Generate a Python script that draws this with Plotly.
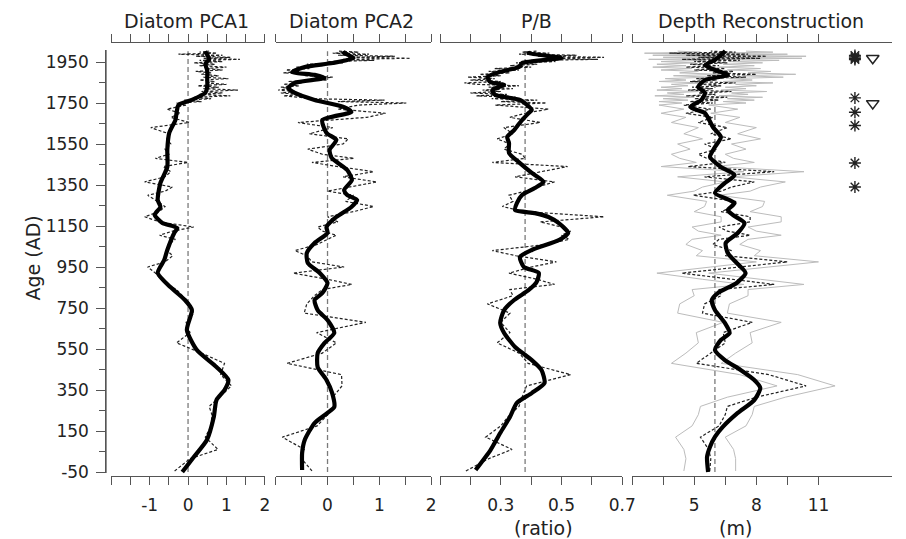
import plotly.graph_objects as go

# ---------------- data ----------------
ages = [
    -45, 15, 60, 120, 175, 230, 270, 315, 370, 425, 480, 530, 580, 630, 680, 725, 770, 810,
    840, 865, 890, 920, 950, 975, 1005, 1030, 1060, 1085, 1105, 1125, 1145, 1170, 1195, 1220,
    1245, 1270, 1300, 1320, 1340, 1365, 1390, 1415, 1440, 1460, 1480, 1500, 1525, 1550, 1575,
    1600, 1630, 1655, 1680, 1700, 1720, 1740,
    1750, 1757, 1764, 1771, 1778, 1785, 1792, 1799, 1806, 1813, 1820, 1827, 1834, 1841, 1848,
    1855, 1862, 1869, 1876, 1883, 1890, 1897, 1904, 1911, 1918, 1925, 1932, 1939, 1946, 1952,
    1958, 1963, 1968, 1973, 1978, 1983, 1988, 1993, 1998, 2003,
]

pca1_raw = [
    -0.35, 0.05, 0.78, 0.45, 0.6, 0.62, 0.55, 0.8, 1.13, 0.85, 0.95, 0.35, -0.3, 0.05, -0.05, 0.15, 0.05, -0.15,
    -0.3, -0.55, -0.7, -0.85, -1.05, -0.6, -0.4, -0.55, -0.5, -0.33, -0.74, -0.4, 0.15, -0.75, -1.13, -0.75,
    -0.6, -0.8, -1.05, -0.6, -0.41, -1.13, -0.6, -0.45, -0.65, 0.0, -0.85, -0.5, -0.6, -0.45, -0.55,
    -0.5, -0.97, 0.03, -0.45, -0.2, -0.55, -0.05,
    -0.3, 0.35, -0.1, 0.6, 0.15, 1.1, 0.3, 0.9, 0.35, 1.3, 0.4, 0.8, 0.25, 1.0, 0.45,
    0.7, 0.3, 1.05, 0.4, 0.8, 0.35, 0.6, 0.2, 0.9, 0.45, 1.0, 0.3, 0.7, 0.15, 0.9,
    0.3, 1.35, 0.4, 1.1, 0.2, 0.9, -0.25, 0.75, 0.3, 0.55,
]
pca2_raw = [
    -0.3, -0.5, -0.45, -0.87, -0.2, 0.0, 0.15, 0.1, 0.28, 0.27, -0.78, -0.1, 0.17, -0.21, 0.74, -0.45, -0.4, -0.25,
    -0.1, 0.47, 0.0, -0.66, 0.32, -0.3, -0.4, -0.63, -0.2, 0.0, 0.17, -0.1, -0.19, 0.2, 0.0, 0.5,
    0.89, 0.35, 0.5, 0.0, 0.45, 0.95, 0.3, 0.89, 0.2, -0.3, 0.51, -0.1, -0.38, 0.3, 0.4,
    -0.35, 0.1, -0.57, 0.76, 1.12, 0.2, 0.6,
    1.52, 0.2, 1.1, -0.3, -0.55, -0.85, -0.5, -0.9, -0.6, -0.95, -0.7, -0.9, -0.55, -0.85, -0.5,
    -0.75, 0.0, -0.2, 0.1, -0.45, -0.3, -0.85, -0.55, -0.8, -0.35, -0.6, -0.1, -0.4, 0.3, 0.0,
    0.9, 0.3, 1.6, 0.4, 1.3, 0.2, 0.8, 0.1, 0.6, 0.2,
]
pb_raw = [
    0.185, 0.26, 0.337, 0.25, 0.3, 0.33, 0.36, 0.37, 0.385, 0.53, 0.39, 0.36, 0.288, 0.33, 0.3, 0.33, 0.256, 0.34,
    0.33, 0.477, 0.42, 0.327, 0.4, 0.483, 0.35, 0.272, 0.45, 0.525, 0.5, 0.53, 0.5, 0.43, 0.64, 0.38,
    0.305, 0.34, 0.327, 0.38, 0.42, 0.477, 0.347, 0.44, 0.52, 0.272, 0.38, 0.37, 0.31, 0.33, 0.288,
    0.34, 0.31, 0.43, 0.33, 0.38, 0.457, 0.282,
    0.45, 0.3, 0.42, 0.27, 0.35, 0.22, 0.32, 0.2, 0.3, 0.24, 0.34, 0.26, 0.36, 0.22, 0.18,
    0.3, 0.2, 0.28, 0.19, 0.3, 0.23, 0.33, 0.26, 0.36, 0.28, 0.4, 0.33, 0.42, 0.35, 0.48,
    0.4, 0.62, 0.45, 0.64, 0.42, 0.55, 0.36, 0.46, 0.37, 0.42,
]
depth_raw = [
    5.75, 5.8, 5.7, 5.3, 6.2, 6.5, 6.6, 8.0, 10.4, 8.6, 5.1, 5.8, 6.5, 6.4, 7.8, 5.4, 5.5, 6.3,
    6.2, 8.86, 6.8, 4.4, 7.2, 9.5, 6.5, 6.8, 5.9, 6.2, 7.7, 6.6, 6.2, 7.7, 7.7, 6.3,
    6.9, 7.0, 4.95, 6.3, 6.8, 7.9, 5.5, 8.86, 4.7, 6.5, 5.6, 5.2, 6.1, 5.5, 6.8,
    5.8, 6.6, 5.2, 5.9, 4.6, 5.8, 4.5,
    5.9, 4.8, 6.2, 5.0, 6.6, 4.6, 6.0, 5.2, 6.8, 4.7, 5.9, 4.9, 6.3, 5.4, 7.0,
    4.8, 6.1, 5.1, 7.5, 5.6, 8.0, 5.9, 6.9, 5.0, 6.5, 4.6, 6.2, 4.8, 6.6, 5.0,
    7.2, 4.4, 8.2, 5.2, 8.5, 4.6, 7.6, 3.8, 7.0, 5.8,
]
depth_lower = [
    4.5, 4.6, 4.5, 4.1, 4.9, 5.2, 5.3, 6.6, 9.0, 7.2, 3.9, 4.6, 5.2, 5.1, 6.4, 4.2, 4.3, 5.0,
    4.9, 7.4, 5.4, 3.2, 5.8, 8.0, 5.1, 5.4, 4.6, 4.9, 6.3, 5.2, 4.9, 6.3, 6.3, 5.0,
    5.5, 5.6, 3.7, 5.0, 5.4, 6.5, 4.2, 7.4, 3.4, 5.1, 4.3, 3.9, 4.8, 4.2, 5.4,
    4.5, 5.2, 3.9, 4.6, 3.4, 4.5, 3.3,
    4.4, 3.3, 4.7, 3.5, 5.0, 3.1, 4.5, 3.7, 5.2, 3.2, 4.4, 3.4, 4.7, 3.9, 5.4,
    3.3, 4.6, 3.6, 5.8, 4.0, 6.2, 4.3, 5.2, 3.4, 4.9, 3.0, 4.6, 3.2, 5.0, 3.4,
    5.5, 2.8, 6.4, 3.5, 6.6, 3.0, 5.8, 2.6, 5.3, 4.2,
]
depth_upper = [
    7.0, 7.0, 6.9, 6.5, 7.5, 7.8, 7.9, 9.4, 11.8, 10.0, 6.3, 7.0, 7.8, 7.7, 9.2, 6.6, 6.7, 7.6,
    7.6, 10.3, 8.2, 5.7, 8.6, 11.0, 7.9, 8.2, 7.2, 7.6, 9.2, 8.0, 7.6, 9.2, 9.2, 7.7,
    8.3, 8.4, 6.2, 7.7, 8.2, 9.4, 6.8, 10.3, 6.0, 7.9, 6.9, 6.5, 7.5, 6.8, 8.2,
    7.1, 8.0, 6.5, 7.2, 5.8, 7.1, 5.7,
    7.5, 6.4, 7.9, 6.6, 8.3, 6.2, 7.6, 6.8, 8.5, 6.3, 7.5, 6.5, 8.0, 7.0, 8.8,
    6.4, 7.8, 6.7, 9.3, 7.3, 9.9, 7.6, 8.7, 6.6, 8.2, 6.2, 7.9, 6.4, 8.3, 6.7,
    9.1, 6.0, 10.2, 6.9, 10.4, 6.2, 9.5, 5.4, 8.8, 7.5,
]

# smoothed (LOESS-like) curves
pca1_s_age = [-50, 23, 106, 218, 301, 350, 399, 462, 545, 643, 740, 789, 852, 921, 984, 1033, 1116, 1140,
              1165, 1204, 1243, 1277, 1360, 1438, 1521, 1604, 1667, 1701, 1740, 1765, 1800, 1830,
              1870, 1910, 1940, 1965, 1985, 2003]
pca1_s = [-0.15, 0.15, 0.49, 0.67, 0.74, 0.95, 1.05, 0.74, 0.23, -0.03, 0.10, -0.08, -0.46, -0.79, -0.62,
          -0.54, -0.36, -0.28, -0.67, -0.87, -0.72, -0.79, -0.72, -0.54, -0.54, -0.49, -0.33, -0.3, -0.25,
          0.1, 0.45, 0.5, 0.5, 0.5, 0.45, 0.55, 0.5, 0.45]

pca2_s_age = [-40, 43, 106, 189, 238, 267, 335, 399, 462, 530, 579, 628, 691, 740, 789, 823, 872, 921, 970,
              1018, 1067, 1116, 1145, 1194, 1243, 1277, 1301, 1326, 1374, 1423, 1482, 1521, 1570, 1604,
              1667, 1706, 1730, 1765, 1799, 1823, 1848, 1872, 1887, 1901, 1926, 1945, 1970, 1994, 2003]
pca2_s = [-0.49, -0.49, -0.44, -0.25, 0.0, 0.13, 0.09, -0.02, -0.19, -0.19, -0.06, 0.13, 0.0, -0.19, -0.25,
          -0.1, 0.0, -0.15, -0.38, -0.4, -0.25, 0.0, -0.02, 0.17, 0.46, 0.57, 0.38, 0.32, 0.47, 0.38, 0.08,
          0.04, 0.17, -0.02, -0.1, 0.46, 0.32, -0.25, -0.63, -0.76, -0.63, -0.06, -0.25, -0.68, -0.44, 0.1,
          0.5, 0.32, 0.3]

pb_s_age = [-40, 57, 140, 218, 287, 335, 384, 448, 496, 560, 628, 677, 740, 789, 838, 877, 921, 950, 999,
            1033, 1082, 1116, 1165, 1194, 1213, 1228, 1262, 1301, 1335, 1365, 1409, 1457, 1506, 1555, 1584,
            1618, 1667, 1701, 1716, 1765, 1789, 1813, 1838, 1852, 1877, 1901, 1926, 1945, 1970, 1994, 2003]
pb_s = [0.217, 0.266, 0.298, 0.33, 0.353, 0.402, 0.444, 0.434, 0.402, 0.347, 0.311, 0.298, 0.311, 0.344,
        0.392, 0.418, 0.425, 0.376, 0.363, 0.402, 0.493, 0.522, 0.49, 0.457, 0.412, 0.347, 0.353, 0.37,
        0.412, 0.441, 0.402, 0.363, 0.327, 0.327, 0.321, 0.344, 0.37, 0.392, 0.402, 0.363, 0.282, 0.272,
        0.311, 0.266, 0.256, 0.295, 0.36, 0.37, 0.5, 0.392, 0.39]

depth_s_age = [-50, 23, 72, 121, 170, 238, 301, 360, 399, 448, 496, 545, 594, 628, 677, 740, 789, 823, 872,
               921, 970, 1018, 1067, 1116, 1165, 1204, 1228, 1262, 1311, 1360, 1399, 1438, 1487, 1535, 1584,
               1633, 1701, 1730, 1765, 1799, 1828, 1862, 1887, 1911, 1935, 1960, 1984, 2003]
depth_s = [5.67, 5.62, 5.76, 6.0, 6.38, 7.1, 7.9, 8.19, 7.9, 7.24, 6.48, 6.0, 6.29, 6.71, 6.48, 6.0, 5.85,
           6.14, 7.05, 7.48, 7.05, 6.62, 6.52, 7.1, 7.43, 6.86, 6.62, 6.95, 6.0, 6.48, 6.95, 6.29, 5.76, 6.0,
           6.29, 5.9, 5.52, 4.81, 5.35, 5.52, 5.19, 5.52, 6.62, 6.0, 5.52, 6.0, 6.29, 6.5]

ref_values = [0.0, 0.0, 0.38, 6.0]          # dashed vertical reference per panel
asterisk_ages = [1962, 1968, 1975, 1982, 1775, 1705, 1640, 1457, 1340]
triangle_ages = [1968, 1748]

titles = ["Diatom PCA1", "Diatom PCA2", "P/B", "Depth Reconstruction"]
x_tickvals = [
    [-2, -1.5, -1, -0.5, 0, 0.5, 1, 1.5, 2],
    [-1, -0.5, 0, 0.5, 1, 1.5, 2],
    [0.1, 0.2, 0.3, 0.4, 0.5, 0.6, 0.7],
    [2, 3.5, 5, 6.5, 8, 9.5, 11],
]
x_ticktext = [
    ["", "", "-1", "", "0", "", "1", "", "2"],
    ["", "", "0", "", "1", "", "2"],
    ["", "", "0.3", "", "0.5", "", "0.7"],
    ["", "", "5", "", "8", "", "11"],
]
y_tickvals = [-50, 150, 350, 550, 750, 950, 1150, 1350, 1550, 1750, 1950]
y_ticktext = ["-50", "150", "350", "550", "750", "950", "1150", "1350", "1550", "1750", "1950"]
y_minorvals = [50, 250, 450, 650, 850, 1050, 1250, 1450, 1650, 1850]

for arr in (pca1_raw, pca2_raw, pb_raw, depth_raw, depth_lower, depth_upper):
    assert len(arr) == len(ages), len(arr)

# ---------------- layout constants ----------------
W, H = 906, 539
TOP, BOT = 43, 476
FONT = "DejaVu Sans"
TXT = "#222222"
AXC = "#555555"


def px(x):
    return x / W


def py(y):
    return (BOT - y) / (BOT - TOP)


domains = [(113, 269), (280, 438), (447, 632), (642, 906)]
ranges = [(-2, 2), (-1, 2), (0.1, 0.7), (2, 14.55)]
title_x = [189, 357, 545, 773]

fig = go.Figure()

raw_series = [pca1_raw, pca2_raw, pb_raw, depth_raw]
smooth_series = [(pca1_s_age, pca1_s), (pca2_s_age, pca2_s), (pb_s_age, pb_s), (depth_s_age, depth_s)]

for i in range(4):
    xa = "x" if i == 0 else f"x{i + 1}"
    if i == 3:
        for bound in (depth_lower, depth_upper):
            fig.add_trace(go.Scatter(x=bound, y=ages, xaxis=xa, yaxis="y", mode="lines",
                                     line=dict(color="#bcbcbc", width=1), hoverinfo="skip"))
    fig.add_trace(go.Scatter(x=[ref_values[i], ref_values[i]], y=[min(ages) - 5, max(ages)],
                             xaxis=xa, yaxis="y", mode="lines",
                             line=dict(color="#7a7a7a", width=1.3, dash="5px,3px")))
    fig.add_trace(go.Scatter(x=raw_series[i], y=ages, xaxis=xa, yaxis="y", mode="lines",
                             line=dict(color="#222222", width=1.2, dash="3px,2px")))
    sa, sv = smooth_series[i]
    fig.add_trace(go.Scatter(x=sv, y=sa, xaxis=xa, yaxis="y", mode="lines",
                             line=dict(color="black", width=4.2, shape="spline", smoothing=0.6)))

# dating markers at right of depth panel
fig.add_trace(go.Scatter(x=[12.76] * len(asterisk_ages), y=asterisk_ages, xaxis="x4", yaxis="y",
                         mode="markers",
                         marker=dict(symbol="asterisk-open", size=10, color="#222222",
                                     line=dict(color="#222222", width=1.4))))
fig.add_trace(go.Scatter(x=[13.62] * len(triangle_ages), y=triangle_ages, xaxis="x4", yaxis="y",
                         mode="markers",
                         marker=dict(symbol="triangle-down-open", size=11, color="#222222",
                                     line=dict(color="#222222", width=1.5))))

layout = dict(
    width=W, height=H,
    margin=dict(l=0, r=0, t=TOP, b=H - BOT),
    paper_bgcolor="white", plot_bgcolor="white",
    showlegend=False,
    font=dict(family=FONT, color=TXT, size=17),
    yaxis=dict(
        range=[-69.5, 2042.7], anchor="free", position=px(107),
        tickmode="array", tickvals=y_tickvals, ticktext=y_ticktext, ticks="outside", ticklen=9,
        tickcolor=AXC, tickwidth=1, showline=False,
        showgrid=False, zeroline=False,
        tickfont=dict(family=FONT, size=17, color=TXT), ticklabelstandoff=4,
        minor=dict(tickmode="array", tickvals=y_minorvals, ticks="outside", ticklen=6,
                   tickcolor=AXC, tickwidth=1, showgrid=False),
    ),
)
for i in range(4):
    key = "xaxis" if i == 0 else f"xaxis{i + 1}"
    layout[key] = dict(
        domain=[px(domains[i][0]), px(domains[i][1])], range=list(ranges[i]), anchor="y",
        tickmode="array", tickvals=x_tickvals[i], ticktext=x_ticktext[i],
        ticks="outside", ticklen=8, tickcolor=AXC, tickwidth=1,
        showline=True, linecolor=AXC, linewidth=1, mirror="ticks",
        showgrid=False, zeroline=False,
        tickfont=dict(family=FONT, size=17, color=TXT), ticklabelstandoff=6,
    )

annotations = []
for i in range(4):
    annotations.append(dict(text=titles[i], x=px(title_x[i]), y=py(21), xref="paper", yref="paper",
                            xanchor="center", yanchor="middle", showarrow=False,
                            font=dict(family=FONT, size=19, color=TXT)))
annotations.append(dict(text="(ratio)", x=px(552), y=py(528), xref="paper", yref="paper",
                        xanchor="center", yanchor="middle", showarrow=False,
                        font=dict(family=FONT, size=19, color=TXT)))
annotations.append(dict(text="(m)", x=px(747), y=py(528), xref="paper", yref="paper",
                        xanchor="center", yanchor="middle", showarrow=False,
                        font=dict(family=FONT, size=19, color=TXT)))
annotations.append(dict(text="Age (AD)", x=px(34), y=py(258), xref="paper", yref="paper",
                        xanchor="center", yanchor="middle", showarrow=False, textangle=-90,
                        font=dict(family=FONT, size=19, color=TXT)))
layout["annotations"] = annotations

# left axis line spanning the labelled age range (R-style)
layout["shapes"] = [dict(type="line", xref="paper", yref="paper", x0=px(107.5), x1=px(107.5),
                         y0=py(473), y1=py(50), line=dict(color="#444444", width=1.5), layer="above")]

fig.update_layout(**layout)
fig.write_html("out.html")
